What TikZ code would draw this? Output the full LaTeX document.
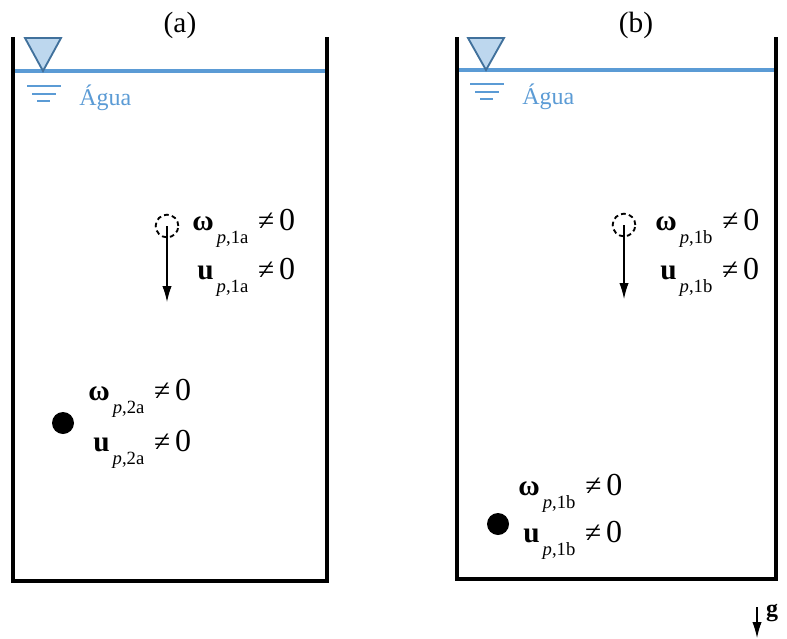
\documentclass[tikz,border=0pt]{standalone}
\usepackage{fontspec}
\setmainfont{Liberation Serif}
\usetikzlibrary{arrows.meta}
\definecolor{water}{HTML}{5B9BD5}
\definecolor{trifill}{HTML}{BDD7EE}
\definecolor{tridraw}{HTML}{41719C}
\newcommand{\lbl}[2]{{\bfseries #1}\raisebox{-0.45em}{\fontsize{14}{14}\selectfont\,\itshape p\upshape,#2}\,\,≠\,{\fontsize{24}{24}\selectfont 0}}
\begin{document}
\begin{tikzpicture}[x=0.75pt,y=-0.75pt,
  wall/.style={line width=3.4pt,line cap=rect},
  surface/.style={water,line width=2.4pt},
  tri/.style={fill=trifill,draw=tridraw,line width=1.4pt,line join=miter},
  levelmark/.style={water,line width=0.9pt},
  watertxt/.style={text=water,font=\fontsize{18}{18}\selectfont,anchor=west,inner sep=0pt},
  title/.style={font=\fontsize{22}{22}\selectfont,inner sep=0pt},
  eq/.style={font=\fontsize{22}{22}\selectfont,anchor=base west,inner sep=0pt},
  hollow/.style={circle,draw,dashed,dash pattern=on 3.5pt off 2.5pt,line width=1.4pt,minimum size=17pt,inner sep=0pt},
  solid/.style={circle,fill=black,minimum size=16.5pt,inner sep=0pt},
  fall/.style={-{Latex[length=12pt,width=7pt]},line width=0.9pt}]
\useasboundingbox (0,0) rectangle (787,638);
% tank a
\draw[wall] (13,39) -- (13,581) -- (327,581) -- (327,39);
\draw[surface] (15,71) -- (325,71);
\node[title] (ta) at (180,25) {(a)};
\draw[tri] (25,38) -- (61,38) -- (43,71) -- cycle;
\draw[levelmark] (27,86) -- (61,86) (32,94) -- (56,94) (37,101) -- (50,101);
\node[watertxt] (wa) at (79,98) {Água};
% tank b
\draw[wall] (457,39) -- (457,579) -- (776,579) -- (776,39);
\draw[surface] (459,70) -- (774,70);
\node[title] (tb) at (636,25) {(b)};
\draw[tri] (468,38) -- (504,38) -- (486,70) -- cycle;
\draw[levelmark] (470,84) -- (504,84) (475,92) -- (499,92) (480,99) -- (493,99);
\node[watertxt] (wb) at (522,97) {Água};
% particles (a)
\node[hollow] (p1a) at (167,226) {};
\coordinate (e1a) at (167,302);
\draw[fall] (p1a.center) -- (e1a);
\node[eq] (w1a) at (192,230) {\lbl{ω}{1a}};
\node[eq] (u1a) at (197,279) {\lbl{u}{1a}};
\node[solid] (p2a) at (63,423) {};
\node[eq] (w2a) at (88,400) {\lbl{ω}{2a}};
\node[eq] (u2a) at (93,451) {\lbl{u}{2a}};
% particles (b)
\node[hollow] (p1b) at (624,225) {};
\coordinate (e1b) at (624,299);
\draw[fall] (p1b.center) -- (e1b);
\node[eq] (w1b) at (655,230) {\lbl{ω}{1b}};
\node[eq] (u1b) at (660,279) {\lbl{u}{1b}};
\node[solid] (p2b) at (498,524) {};
\node[eq] (w2b) at (518,495) {\lbl{ω}{1b}};
\node[eq] (u2b) at (523,542) {\lbl{u}{1b}};
% gravity
\coordinate (g0) at (757,607);
\coordinate (g1) at (757,638);
\draw[fall] (g0) -- (g1);
\node[font=\fontsize{18}{18}\selectfont\bfseries,inner sep=0pt] (g) at (772,613) {g};
\end{tikzpicture}
\end{document}
